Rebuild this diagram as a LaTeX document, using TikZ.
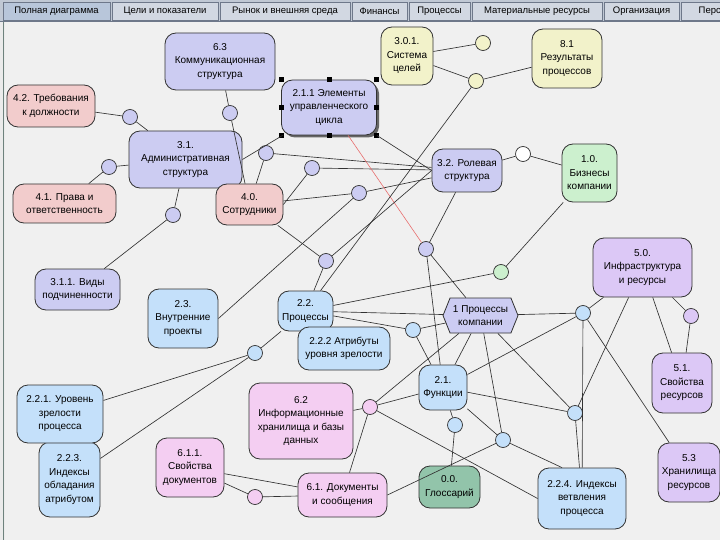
\documentclass[tikz,border=0pt]{standalone}
\usepackage{fontspec}
\setmainfont{Liberation Sans}
\usetikzlibrary{shapes.symbols,shadows}

\definecolor{canvas}{RGB}{240,240,240}
\definecolor{linegray}{RGB}{50,50,50}
\definecolor{lavfill}{RGB}{204,204,242}
\definecolor{pinkfill}{RGB}{242,204,204}
\definecolor{yelfill}{RGB}{242,242,202}
\definecolor{greenfill}{RGB}{204,240,206}
\definecolor{bluefill}{RGB}{196,224,250}
\definecolor{purpfill}{RGB}{220,200,246}
\definecolor{rosefill}{RGB}{244,206,242}
\definecolor{tealfill}{RGB}{146,196,170}
\definecolor{tabbar}{RGB}{192,200,212}
\definecolor{tabfill}{RGB}{210,216,226}
\definecolor{tabsel}{RGB}{184,198,218}
\definecolor{tabedge}{RGB}{110,120,138}
\definecolor{redlink}{RGB}{232,110,110}

\begin{document}
\begin{tikzpicture}[x=1pt, y=-1pt,
    block/.style={rectangle, draw=linegray, line width=0.8pt, rounded corners=11pt, align=center, inner sep=1pt, font=\fontsize{10}{13.5}\selectfont},
    hub/.style={circle, draw=linegray, line width=0.7pt, minimum size=15pt, inner sep=0pt},
    link/.style={draw=linegray, line width=0.65pt},
    tab/.style={rectangle, draw=tabedge, fill=tabfill, minimum height=18pt, inner sep=0pt, font=\fontsize{9.5}{11}\selectfont}]
    \useasboundingbox (0,0) rectangle (720,540);
    % window
    \fill [tabbar] (0,0) rectangle (720,21);
    \fill [canvas] (0,21) rectangle (720,540);
    \fill [black!8] (0,21) rectangle (5,540);
    \draw [line width=1.5pt, draw={rgb,255:red,110;green,130;blue,125}] (3.5,21) -- (3.5,540);
    \draw [tabedge] (0,21) -- (720,21);
    \node [tab, fill=tabsel, minimum width=107] (tfull) at (56.5,11) {Полная диаграмма};
    \node [tab, minimum width=106] (tceli) at (165,11) {Цели и показатели};
    \node [tab, minimum width=130] (trynok) at (285,11) {Рынок и внешняя среда};
    \node [tab, minimum width=55] (tfin) at (379.5,11) {Финансы};
    \node [tab, minimum width=61] (tproc) at (439.5,11) {Процессы};
    \node [tab, minimum width=130] (tmat) at (537,11) {Материальные ресурсы};
    \node [tab, minimum width=75] (torg) at (641.5,11) {Организация};
    \node [tab, minimum width=79] (tpers) at (720.5,11) {Персонал};

    % boxes
    \node [block, fill=lavfill, minimum width=110, minimum height=57] (komm) at (220,61.5) {6.3\\Коммуникационная\\структура};
    \node [block, fill=lavfill, minimum width=95, minimum height=55,
        drop shadow={shadow xshift=2.5pt, shadow yshift=-2.5pt, fill=black!60, opacity=1}] (elem) at (329,107.5) {2.1.1 Элементы\\управленческого\\цикла};
    \node [block, fill=yelfill, minimum width=52, minimum height=58] (celi) at (407,56) {3.0.1.\\Система\\целей};
    \node [block, fill=yelfill, minimum width=70, minimum height=59] (rezult) at (567,58.5) {8.1\\Результаты\\процессов};
    \node [block, fill=pinkfill, minimum width=88, minimum height=42] (treb) at (51,106) {4.2. Требования\\к должности};
    \node [block, fill=lavfill, minimum width=113, minimum height=57] (admin) at (185.5,159.5) {3.1.\\Административная\\структура};
    \node [block, fill=lavfill, minimum width=70, minimum height=43] (rol) at (467,170.5) {3.2. Ролевая\\структура};
    \node [block, fill=greenfill, minimum width=55, minimum height=58] (biz) at (589.5,173) {1.0.\\Бизнесы\\компании};
    \node [block, fill=pinkfill, minimum width=103, minimum height=39] (prava) at (64.5,203.5) {4.1. Права и\\ответственность};
    \node [block, fill=pinkfill, minimum width=67, minimum height=41] (sotr) at (249.5,204.5) {4.0.\\Сотрудники};
    \node [block, fill=lavfill, minimum width=85, minimum height=41] (vidy) at (77.5,289.5) {3.1.1. Виды\\подчиненности};
    \node [block, fill=bluefill, minimum width=70, minimum height=59] (vnutr) at (183,318.5) {2.3.\\Внутренние\\проекты};
    \node [block, fill=bluefill, minimum width=55, minimum height=40] (proc) at (305.5,311) {2.2.\\Процессы};
    \node [signal, signal to=west and east, signal pointer angle=136, draw=linegray, line width=0.8pt, fill=lavfill, align=center,
        inner sep=1pt, minimum width=75, minimum height=35, font=\fontsize{10}{13.5}\selectfont] (hex) at (480.5,315.5) {1 Процессы\\компании};
    \node [block, fill=purpfill, minimum width=99, minimum height=59] (infra) at (642.5,267.5) {5.0.\\Инфраструктура\\и ресурсы};
    \node [block, fill=bluefill, minimum width=92, minimum height=43] (atrib) at (344,348.5) {2.2.2 Атрибуты\\уровня зрелости};
    \node [block, fill=bluefill, minimum width=61, minimum height=75] (indobl) at (69.5,479.5) {2.2.3.\\Индексы\\обладания\\атрибутом};
    \node [block, fill=bluefill, minimum width=86, minimum height=58] (uroven) at (60,414) {2.2.1. Уровень\\зрелости\\процесса};
    \node [block, fill=rosefill, minimum width=104, minimum height=76] (inform) at (301,421) {6.2\\Информационные\\хранилища и базы\\данных};
    \node [block, fill=bluefill, minimum width=48, minimum height=45] (funk) at (443,387.5) {2.1.\\Функции};
    \node [block, fill=purpfill, minimum width=60, minimum height=60] (svres) at (682,383) {5.1.\\Свойства\\ресурсов};
    \node [block, fill=rosefill, minimum width=68, minimum height=59] (svdoc) at (190,467.5) {6.1.1.\\Свойства\\документов};
    \node [block, fill=rosefill, minimum width=89, minimum height=44] (doc) at (342.5,495) {6.1. Документы\\и сообщения};
    \node [block, fill=tealfill, minimum width=61, minimum height=42] (gloss) at (449.5,487) {0.0.\\Глоссарий};
    \node [block, fill=bluefill, minimum width=88, minimum height=61] (indvetv) at (582,498.5) {2.2.4. Индексы\\ветвления\\процесса};
    \node [block, fill=purpfill, minimum width=62, minimum height=59] (hran) at (689,472.5) {5.3\\Хранилища\\ресурсов};
    \foreach \p in {north west, north, north east, west, east, south west, south, south east}
        \fill (elem.\p) +(-2.5,-2.5) rectangle +(2.5,2.5);

    % junctions
    \node [hub, fill=lavfill] (h1) at (130,117) {};
    \node [hub, fill=lavfill] (h2) at (230,113) {};
    \node [hub, fill=lavfill] (h3) at (109,167) {};
    \node [hub, fill=lavfill] (h4) at (266,153) {};
    \node [hub, fill=lavfill] (h5) at (312,168) {};
    \node [hub, fill=yelfill] (h6) at (483,43) {};
    \node [hub, fill=yelfill] (h7) at (476,81) {};
    \node [hub, fill=white] (h8) at (523,154) {};
    \node [hub, fill=lavfill] (h9) at (173,215) {};
    \node [hub, fill=lavfill] (h10) at (326,261) {};
    \node [hub, fill=lavfill] (h11) at (359,193) {};
    \node [hub, fill=lavfill] (h12) at (426,249) {};
    \node [hub, fill=greenfill] (h13) at (501,272) {};
    \node [hub, fill=bluefill] (h14) at (413,330) {};
    \node [hub, fill=bluefill] (h15) at (583,313) {};
    \node [hub, fill=purpfill] (h16) at (691,316) {};
    \node [hub, fill=bluefill] (h17) at (255,353) {};
    \node [hub, fill=rosefill] (h18) at (370,407) {};
    \node [hub, fill=bluefill] (h19) at (455,425) {};
    \node [hub, fill=bluefill] (h20) at (503,440) {};
    \node [hub, fill=bluefill] (h21) at (575,413) {};
    \node [hub, fill=rosefill] (h22) at (255,497) {};

    % links
    \draw [link] (komm) -- (h2);
    \draw [link] (h2) -- (sotr);
    \draw [link] (treb) -- (h1);
    \draw [link] (h1) -- (admin);
    \draw [link] (admin) -- (h3);
    \draw [link] (h3) -- (prava);
    \draw [link] (admin) -- (h9);
    \draw [link] (h9) -- (vidy);
    \draw [link] (admin.east) -- (elem);
    \draw [link] (h4) -- (sotr);
    \draw [link] (h4) -- (rol);
    \draw [link] (h5) -- (sotr.east);
    \draw [link] (h5) -- (rol);
    \draw [link] (h11) -- (sotr);
    \draw [link] (h11) -- (rol);
    \draw [link] (h11) -- (vnutr.east);
    \draw [link] (elem.south east) -- (rol.west);
    \draw [redlink, line width=0.6pt] (elem) -- (h12);
    \draw [link] (rol) -- (h12);
    \draw [link] (rol.west) -- (h10);
    \draw [link] (sotr) -- (h10);
    \draw [link] (h10) -- (proc);
    \draw [link] (celi) -- (h6);
    \draw [link] (celi) -- (h7);
    \draw [link] (h7) -- (rezult);
    \draw [link] (h7) -- (proc);
    \draw [link] (rol) -- (h8);
    \draw [link] (h8) -- (biz);
    \draw [link] (biz) -- (h13);
    \draw [link] (h13) -- (proc);
    \draw [link] (h12) -- (funk);
    \draw [link] (h12) -- (hex);
    \draw [link] (proc) -- (hex);
    \draw [link] (proc) -- (h14);
    \draw [link] (h14) -- (hex);
    \draw [link] (h14) -- (funk);
    \draw [link] (proc) -- (h17);
    \draw [link] (h17) -- (uroven);
    \draw [link] (h17) -- (indobl);
    \draw [link] (hex) -- (h15);
    \draw [link] (h15) -- (infra);
    \draw [link] (infra) -- (h16);
    \draw [link] (h16) -- (svres);
    \draw [link] (infra) -- (svres);
    \draw [link] (infra) -- (h21);
    \draw [link] (h15) -- (hran);
    \draw [link] (h15) -- (funk);
    \draw [link] (h15) -- (indvetv);
    \draw [link] (hex) -- (h21);
    \draw [link] (hex) -- (funk);
    \draw [link] (hex) -- (h20);
    \draw [link] (hex) -- (h18);
    \draw [link] (h18) -- (funk);
    \draw [link] (h18) -- (inform);
    \draw [link] (h18) -- (doc);
    \draw [link] (h18) -- (indvetv.west);
    \draw [link] (funk) -- (h19);
    \draw [link] (h19) -- (gloss);
    \draw [link] (funk) -- (h20);
    \draw [link] (h20) -- (doc.east);
    \draw [link] (h20) -- ([xshift=-20pt]indvetv.north);
    \draw [link] (funk) -- (h21);
    \draw [link] (h21) -- (indvetv);
    \draw [link] (svdoc) -- (doc);
    \draw [link] (svdoc) -- (h22);
    \draw [link] (h22) -- (doc);
\end{tikzpicture}
\end{document}
